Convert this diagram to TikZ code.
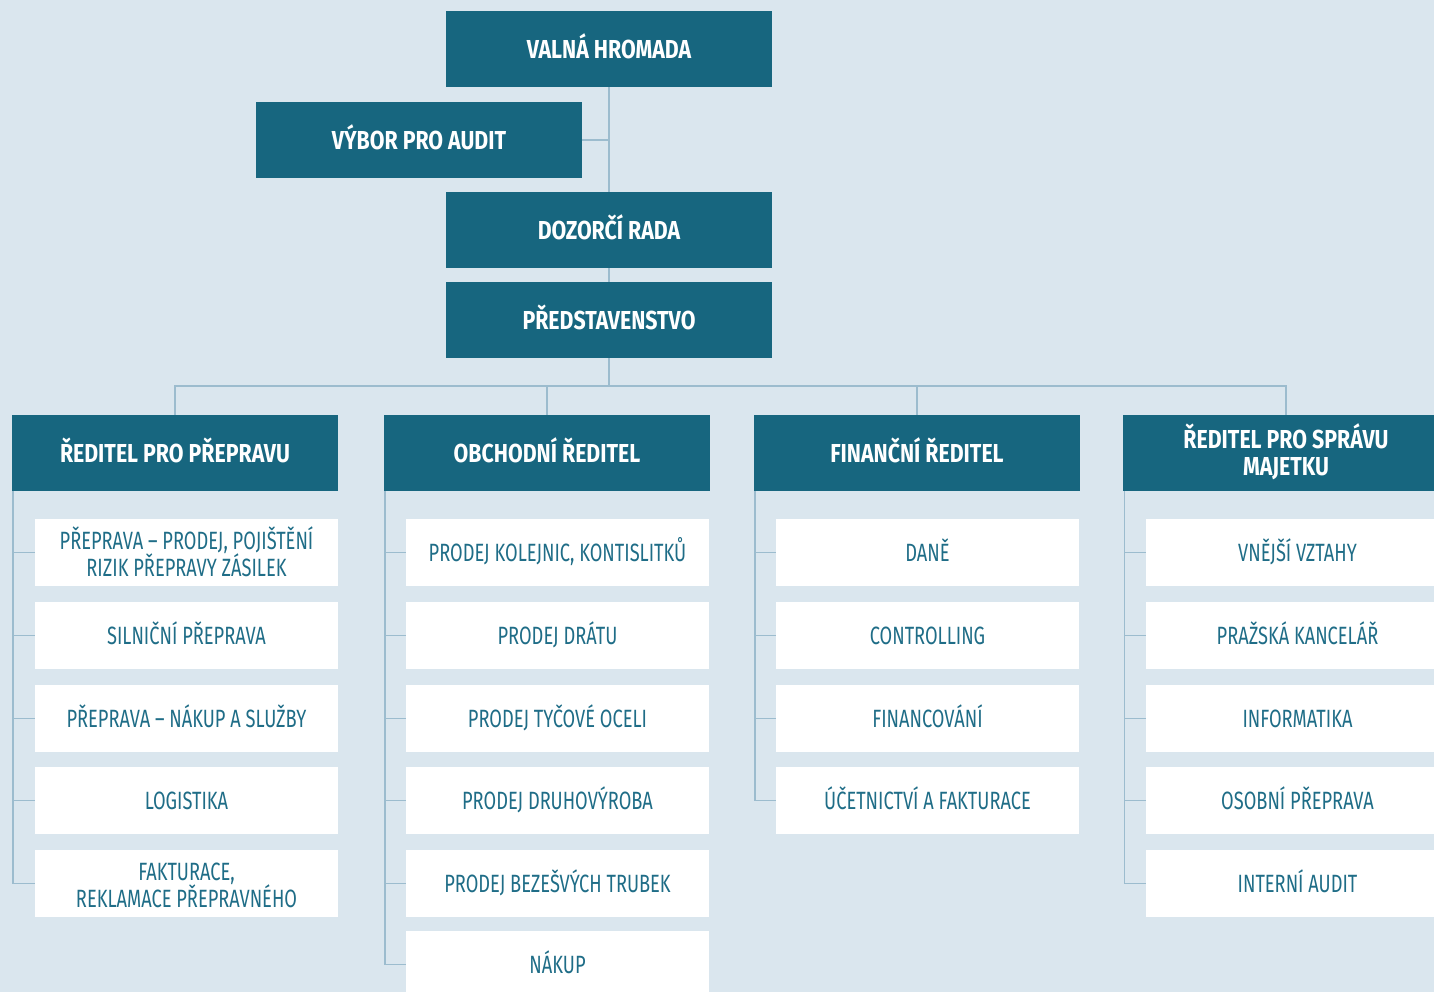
\documentclass[tikz,border=0pt]{standalone}
\usepackage{fontspec}
\setmainfont{Fira Sans}[FakeStretch=0.82]
\newfontfamily\unitfont{Fira Sans}[FakeStretch=0.73]
\definecolor{bgc}{HTML}{DAE6EE}
\definecolor{headc}{HTML}{17667F}
\definecolor{txtc}{HTML}{1F6D87}
\definecolor{linec}{HTML}{9CBCCE}
\tikzset{
  headbox/.style={fill=headc, text=white, font=\fontsize{13}{13.5}\selectfont\bfseries, minimum width=163pt, minimum height=38pt, inner sep=0pt, align=center, text height=9pt, text depth=0pt},
  headtwo/.style={headbox, text height=22.5pt},
  unitbox/.style={fill=white, text=txtc, font=\unitfont\fontsize{12.5}{13.5}\selectfont, minimum width=151.5pt, minimum height=33.5pt, inner sep=0pt, align=center, text height=8.6pt, text depth=0pt},
  unittwo/.style={unitbox, text height=23.6pt},
  conn/.style={draw=linec, line width=0.75pt}
}
\begin{document}
\begin{tikzpicture}[x=0.5pt,y=-0.5pt]
\useasboundingbox (0,0) rectangle (1434,992);
\clip (0,0) rectangle (1434,992);
\fill[bgc] (0,0) rectangle (1434,992);
% top nodes
\node[headbox] (vh) at (609,49) {VALNÁ HROMADA};
\node[headbox] (vpa) at (419,140) {VÝBOR PRO AUDIT};
\node[headbox] (dr) at (609,230) {DOZORČÍ RADA};
\node[headbox] (pr) at (609,320) {PŘEDSTAVENSTVO};
% heads
\node[headbox] (h1) at (175,453) {ŘEDITEL PRO PŘEPRAVU};
\node[headbox] (h2) at (547,453) {OBCHODNÍ ŘEDITEL};
\node[headbox] (h3) at (917,453) {FINANČNÍ ŘEDITEL};
\node[headtwo] (h4) at (1286,453) {ŘEDITEL PRO SPRÁVU\\MAJETKU};
\coordinate (busy) at (0,386);
% column 1
\node[unittwo] (c11) at (186.5,552.5) {PŘEPRAVA – PRODEJ, POJIŠTĚNÍ\\RIZIK PŘEPRAVY ZÁSILEK};
\node[unitbox] (c12) at (186.5,635.5) {SILNIČNÍ PŘEPRAVA};
\node[unitbox] (c13) at (186.5,718.5) {PŘEPRAVA – NÁKUP A SLUŽBY};
\node[unitbox] (c14) at (186.5,800.5) {LOGISTIKA};
\node[unittwo] (c15) at (186.5,883.5) {FAKTURACE,\\REKLAMACE PŘEPRAVNÉHO};
% column 2
\node[unitbox] (c21) at (557.5,552.5) {PRODEJ KOLEJNIC, KONTISLITKŮ};
\node[unitbox] (c22) at (557.5,635.5) {PRODEJ DRÁTU};
\node[unitbox] (c23) at (557.5,718.5) {PRODEJ TYČOVÉ OCELI};
\node[unitbox] (c24) at (557.5,800.5) {PRODEJ DRUHOVÝROBA};
\node[unitbox] (c25) at (557.5,883.5) {PRODEJ BEZEŠVÝCH TRUBEK};
\node[unitbox] (c26) at (557.5,964.5) {NÁKUP};
% column 3
\node[unitbox] (c31) at (927.5,552.5) {DANĚ};
\node[unitbox] (c32) at (927.5,635.5) {CONTROLLING};
\node[unitbox] (c33) at (927.5,718.5) {FINANCOVÁNÍ};
\node[unitbox] (c34) at (927.5,800.5) {ÚČETNICTVÍ A FAKTURACE};
% column 4
\node[unitbox] (c41) at (1297.5,552.5) {VNĚJŠÍ VZTAHY};
\node[unitbox] (c42) at (1297.5,635.5) {PRAŽSKÁ KANCELÁŘ};
\node[unitbox] (c43) at (1297.5,718.5) {INFORMATIKA};
\node[unitbox] (c44) at (1297.5,800.5) {OSOBNÍ PŘEPRAVA};
\node[unitbox] (c45) at (1297.5,883.5) {INTERNÍ AUDIT};
% connectors top
\draw[conn] (vh.south) -- (dr.north);
\draw[conn] (vpa.east) -- (vpa.east -| vh.south);
\draw[conn] (dr.south) -- (pr.north);
\draw[conn] (pr.south) -- (pr.south |- busy);
\draw[conn] (h1.north) -- (h1.north |- busy) -- (h4.north |- busy) -- (h4.north);
\draw[conn] (h2.north) -- (h2.north |- busy);
\draw[conn] (h3.north) -- (h3.north |- busy);
% column trees
\foreach \c in {c11,c12,c13,c14,c15} {\draw[conn] ([xshift=0.75pt]h1.south west) |- (\c.west);}
\foreach \c in {c21,c22,c23,c24,c25,c26} {\draw[conn] ([xshift=0.75pt]h2.south west) |- (\c.west);}
\foreach \c in {c31,c32,c33,c34} {\draw[conn] ([xshift=0.75pt]h3.south west) |- (\c.west);}
\foreach \c in {c41,c42,c43,c44,c45} {\draw[conn] ([xshift=1pt]h4.south west) |- (\c.west);}
\end{tikzpicture}
\end{document}
